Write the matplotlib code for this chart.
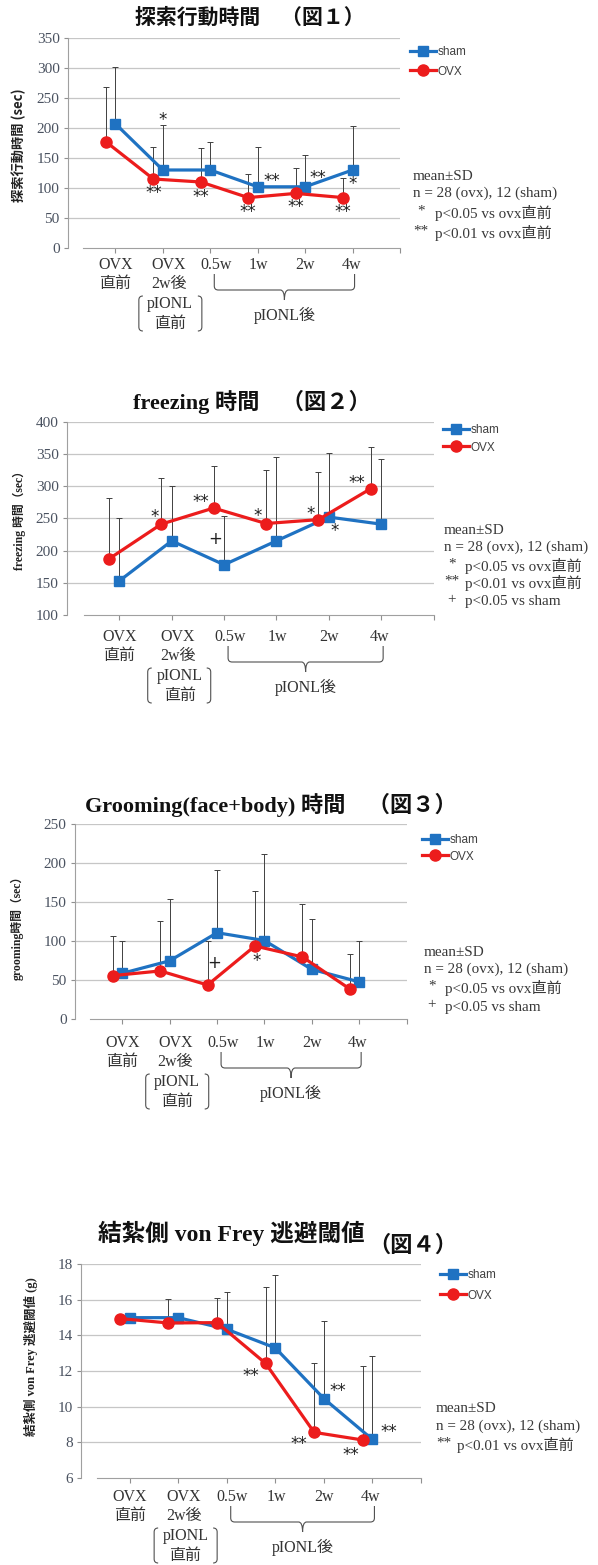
import matplotlib
matplotlib.use('Agg')
import matplotlib.pyplot as plt
import matplotlib.transforms as mtransforms
from matplotlib.path import Path
from matplotlib.patches import PathPatch

W, H = 598, 1565

SERIF = ['Liberation Serif', 'Noto Sans CJK JP']
GOTHIC = ['Noto Sans CJK JP', 'DejaVu Sans']
SANS = ['Liberation Sans', 'DejaVu Sans']
plt.rcParams['font.family'] = SERIF

BLUE = '#1f72c2'
RED = '#ec1c1c'
GRAY = '#404040'
LABEL_DX = [0, 0.12, 0.12, 0.02, 0, -0.03]

categories = ['OVX', 'OVX', '0.5w', '1w', '2w', '4w']
categories_2nd = ['直前', '2w後', '', '', '', '']

# 図1 探索行動時間
explore_sham = [207, 130, 130, 102, 102, 130]
explore_sham_sd = [95, 75, 46, 66, 53, 74]
explore_ovx = [177, 115, 110, 84, 91, 84]
explore_ovx_sd = [92, 53, 56, 39, 42, 32]
explore_marks = [('sham', 1, '*', 0, 52), ('ovx', 1, '**', 0, -12),
                 ('ovx', 2, '**', 0, -13), ('ovx', 3, '**', 0, -12),
                 ('sham', 3, '**', 14, 8), ('ovx', 4, '**', 0, -12),
                 ('sham', 4, '**', 13, 11), ('sham', 5, '*', 0, -12),
                 ('ovx', 5, '**', 0, -12)]
explore_notes = [('', 'mean±SD'), ('', 'n = 28 (ovx), 12 (sham)'),
                 ('*', 'p<0.05 vs ovx直前'), ('**', 'p<0.01 vs ovx直前')]

# 図2 freezing
freeze_sham = [153, 215, 178, 215, 252, 241]
freeze_sham_sd = [98, 85, 76, 130, 100, 101]
freeze_ovx = [187, 241, 266, 242, 248, 296]
freeze_ovx_sd = [95, 72, 65, 83, 74, 65]
freeze_marks = [('ovx', 1, '*', -7, 9), ('ovx', 2, '**', -13, 8),
                ('sham', 2, '+', -9, 28), ('ovx', 3, '*', -8, 10),
                ('ovx', 4, '*', -8, 8), ('sham', 4, '*', 6, -12),
                ('ovx', 5, '**', -14, 8)]
freeze_notes = [('', 'mean±SD'), ('', 'n = 28 (ovx), 12 (sham)'),
                ('*', 'p<0.05 vs ovx直前'), ('**', 'p<0.01 vs ovx直前'),
                ('+', 'p<0.05 vs sham')]

# 図3 grooming
groom_sham = [59, 75, 111, 101, 64, 48]
groom_sham_sd = [41, 79, 81, 111, 65, 52]
groom_ovx = [56, 62, 44, 94, 80, 39]
groom_ovx_sd = [51, 64, 56, 70, 68, 45]
groom_marks = [('ovx', 2, '+', 7, 24), ('ovx', 3, '*', 2, -13)]
groom_notes = [('', 'mean±SD'), ('', 'n = 28 (ovx), 12 (sham)'),
               ('*', 'p<0.05 vs ovx直前'), ('+', 'p<0.05 vs sham')]

# 図4 von Frey
frey_sham = [15.0, 15.0, 14.35, 13.3, 10.45, 8.15]
frey_sham_sd = [0.0, 0.0, 2.1, 4.1, 4.35, 4.7]
frey_ovx = [14.95, 14.7, 14.72, 12.43, 8.55, 8.12]
frey_ovx_sd = [0.0, 1.35, 1.4, 4.3, 3.9, 4.15]
frey_marks = [('ovx', 3, '**', -15, -11), ('sham', 4, '**', 14, 10),
              ('ovx', 4, '**', -15, -10), ('sham', 5, '**', 16, 9),
              ('ovx', 5, '**', -12, -13)]
frey_notes = [('', 'mean±SD'), ('', 'n = 28 (ovx), 12 (sham)'),
              ('**', 'p<0.01 vs ovx直前')]

fig = plt.figure(figsize=(W / 100, H / 100), dpi=100)
PX = mtransforms.Affine2D().scale(1 / W, -1 / H).translate(0, 1) + fig.transFigure


def px_path(verts, codes, lw=0.8):
    fig.add_artist(PathPatch(Path(verts, codes), transform=PX, fill=False,
                             edgecolor='#505050', lw=lw))


def paren(x, top, bot, side):
    r = 4 * side
    verts = [(x + r, top), (x, top), (x, top + 4), (x, bot - 4), (x, bot), (x + r, bot)]
    codes = [Path.MOVETO, Path.CURVE3, Path.CURVE3, Path.LINETO, Path.CURVE3, Path.CURVE3]
    px_path(verts, codes)


def brace(xl, xr, top, yh, tip):
    xm = (xl + xr) / 2
    r = 4
    verts = [(xl, top), (xl, yh - r), (xl, yh), (xl + r, yh), (xm - r, yh), (xm, yh), (xm, tip),
             (xm, tip), (xm, yh), (xm + r, yh), (xr - r, yh), (xr, yh), (xr, yh - r), (xr, top)]
    codes = [Path.MOVETO, Path.LINETO, Path.CURVE3, Path.CURVE3, Path.LINETO, Path.CURVE3, Path.CURVE3,
             Path.MOVETO, Path.CURVE3, Path.CURVE3, Path.LINETO, Path.CURVE3, Path.CURVE3, Path.LINETO]
    px_path(verts, codes)


def draw_panel(sham, sham_sd, ovx, ovx_sd, marks, notes, lay):
    x0, x1, ytop, ybot = lay['rect']
    ax = fig.add_axes([x0 / W, 1 - ybot / H, (x1 - x0) / W, (ybot - ytop) / H])
    xs = list(range(len(categories)))
    xo = [x - 0.2 for x in xs]

    ax.errorbar(xs, sham, yerr=[[0] * len(sham), sham_sd], fmt='none', ecolor=GRAY,
                elinewidth=0.7, capsize=2.4, capthick=0.7, zorder=2)
    ax.errorbar(xo, ovx, yerr=[[0] * len(ovx), ovx_sd], fmt='none', ecolor=GRAY,
                elinewidth=0.7, capsize=2.4, capthick=0.7, zorder=2)
    l1, = ax.plot(xs, sham, color=BLUE, lw=2.3, marker='s', ms=7, zorder=3, label='sham')
    l2, = ax.plot(xo, ovx, color=RED, lw=2.3, marker='o', ms=8, zorder=4, label='OVX')

    ymin, ymax, ystep = lay['ylim']
    ax.set_xlim(-1, 6)
    ax.set_ylim(ymin, ymax)
    ax.set_yticks([ymin + i * ystep for i in range(int(round((ymax - ymin) / ystep)) + 1)])
    ax.set_xticks(range(7))
    ax.set_xticklabels([])
    ax.tick_params(axis='x', length=3.5, color='#909090', width=0.8)
    ax.tick_params(axis='y', length=3, color='#909090', width=0.8, pad=3,
                   labelsize=11, labelcolor='#4a5260')
    for t in ax.get_yticklabels():
        t.set_fontfamily(SERIF)
    ax.grid(axis='y', color='#c6c6c6', lw=0.9, zorder=0)
    for s in ('top', 'right'):
        ax.spines[s].set_visible(False)
    ax.spines['left'].set_color('#a0a0a0')
    ax.spines['bottom'].set_color('#a0a0a0')
    ax.spines['bottom'].set_bounds(-0.68, 6)
    ax.yaxis.get_gridlines()[0].set_visible(False)

    series = {'sham': (xs, sham), 'ovx': (xo, ovx)}
    for name, i, txt, dx, dy in marks:
        sx, sy = series[name]
        ax.annotate(txt, xy=(sx[i], sy[i]), xytext=(dx * 0.72, (dy - 2) * 0.72),
                    textcoords='offset points', ha='center', va='center',
                    fontsize=12, family=['DejaVu Sans'], color='#202020', zorder=5)

    # legend
    ly, lsp = lay['legend']
    ax.legend(handles=[l1, l2], loc='center left', bbox_to_anchor=(lay['lx'], ly + lsp / 2),
              bbox_transform=PX, frameon=False, prop={'family': SANS, 'size': 8.5},
              handlelength=2.2, handletextpad=0.1, borderpad=0, borderaxespad=0,
              labelspacing=(lsp - 13) / 11.8, labelcolor='#404040')

    # titles and axis label
    for txt, tx, ty, fs, fam in lay['titles']:
        fig.text(tx, ty, txt, transform=PX, ha='center', va='center', fontsize=fs,
                 family=fam, fontweight='bold', color='#111111')
    ytxt, yx, yy, yfs, yfam = lay['ylabel']
    fig.text(yx, yy, ytxt, transform=PX, ha='center', va='center', rotation=90,
             fontsize=yfs, family=yfam, fontweight='bold', color='#222222')

    # notes
    nx, ntx = lay['nx']
    for (sym, txt), ny in zip(notes, lay['notes_y']):
        if sym:
            fig.text(nx + 8, ny - 2, sym, transform=PX, ha='center', va='center',
                     fontsize=10.9, family=SERIF, color='#383838')
            fig.text(nx + ntx, ny, txt, transform=PX, ha='left', va='center',
                     fontsize=10.9, family=SERIF, color='#383838')
        else:
            fig.text(nx, ny, txt, transform=PX, ha='left', va='center',
                     fontsize=10.9, family=SERIF, color='#383838')

    # category labels
    r1 = lay['row1']
    tr = mtransforms.blended_transform_factory(ax.transData, PX)
    for i, (a, b) in enumerate(zip(categories, categories_2nd)):
        ax.text(i + LABEL_DX[i], r1, a, transform=tr, ha='center', va='center',
                fontsize=11.5, color='#333333', family=SERIF)
        if b:
            ax.text(i + LABEL_DX[i], r1 + 19, b, transform=tr, ha='center', va='center',
                    fontsize=11.5, color='#333333', family=SERIF)
    step = (x1 - x0) / 7
    cx = [x0 + (i + 1) * step for i in range(6)]
    ax.text(1.15, r1 + 39, 'pIONL', transform=tr, ha='center', va='center', fontsize=11.5,
            color='#333333', family=SERIF)
    ax.text(1.15, r1 + 59, '直前', transform=tr, ha='center', va='center', fontsize=11.5,
            color='#333333', family=SERIF)
    paren(cx[1] - 24, r1 + 31, r1 + 66, 1)
    paren(cx[1] + 39, r1 + 31, r1 + 66, -1)
    brace(cx[2] + 4, cx[5] + 2, r1 + 9, r1 + 25, r1 + 35)
    fig.text((cx[2] + cx[5]) / 2 + 3, r1 + 50, 'pIONL後', transform=PX, ha='center',
             va='center', fontsize=11.5, color='#333333', family=SERIF)
    return ax


draw_panel(explore_sham, explore_sham_sd, explore_ovx, explore_ovx_sd, explore_marks, explore_notes,
           {'rect': (68, 400, 38, 248), 'ylim': (0, 350, 50),
            'titles': [('探索行動時間　（図１）', 250, 17, 15, GOTHIC)],
            'ylabel': ('探索行動時間 (sec)', 19, 145, 9.5, GOTHIC),
            'legend': (52, 20), 'lx': 410,
            'nx': (413, 22), 'notes_y': [177, 193, 213, 233], 'row1': 265})

draw_panel(freeze_sham, freeze_sham_sd, freeze_ovx, freeze_ovx_sd, freeze_marks, freeze_notes,
           {'rect': (67, 433.5, 421.7, 615), 'ylim': (100, 400, 50),
            'titles': [('freezing 時間　（図２）', 252, 402, 16, SERIF)],
            'ylabel': ('freezing 時間（sec）', 19, 518, 8.5, SERIF),
            'legend': (430, 18), 'lx': 443,
            'nx': (444, 21), 'notes_y': [530, 547, 566, 583, 602], 'row1': 637})

draw_panel(groom_sham, groom_sham_sd, groom_ovx, groom_ovx_sd, groom_marks, groom_notes,
           {'rect': (75, 406.5, 824.3, 1019.3), 'ylim': (0, 250, 50),
            'titles': [('Grooming(face+body) 時間　（図３）', 271, 805, 16, SERIF)],
            'ylabel': ('grooming時間（sec）', 17, 925, 8.5, SERIF),
            'legend': (840, 17), 'lx': 422,
            'nx': (424, 21), 'notes_y': [952, 969, 988, 1007], 'row1': 1043})

draw_panel(frey_sham, frey_sham_sd, frey_ovx, frey_ovx_sd, frey_marks, frey_notes,
           {'rect': (81, 421, 1264.3, 1477.7), 'ylim': (6, 18, 2),
            'titles': [('結紮側 von Frey 逃避閾値', 231, 1233, 17, SERIF),
                       ('（図４）', 413, 1245, 16, GOTHIC)],
            'ylabel': ('結紮側 von Frey 逃避閾値 (g)', 31, 1357, 9, SERIF),
            'legend': (1275, 21), 'lx': 440,
            'nx': (436, 21), 'notes_y': [1408, 1426, 1445], 'row1': 1497})

fig.savefig('out.png', dpi=100, facecolor='white')
